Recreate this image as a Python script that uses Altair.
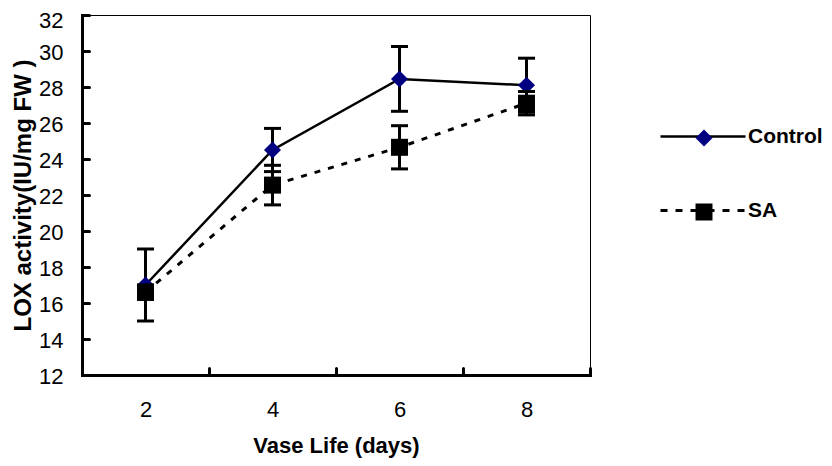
import altair as alt
import pandas as pd

# ---- data ----
days = [2, 4, 6, 8]
control_mean = [17.0, 24.5, 28.45, 28.1]
control_err = [2.0, 1.2, 1.8, 1.5]
sa_mean = [16.6, 22.55, 24.65, 27.1]
sa_err = [0.4, 1.1, 1.2, 0.65]
series_names = ["Control", "SA"]
y_tick_values = [12, 14, 16, 18, 20, 22, 24, 26, 28, 30, 32]
x_label_values = [2, 4, 6, 8]
x_tick_values = [3, 5, 7, 9]
x_domain = [1, 9]
y_domain = [12, 32]

rows = []
for s, means, errs in [("Control", control_mean, control_err), ("SA", sa_mean, sa_err)]:
    for d, m, e in zip(days, means, errs):
        rows.append({"day": d, "series": s, "mean": m, "lo": m - e, "hi": m + e})
df = pd.DataFrame(rows)
legend_df = pd.DataFrame({"series": series_names})

W, H = 508, 360
FONT = "Liberation Sans"

xs = alt.Scale(domain=x_domain, nice=False, zero=False)
ys = alt.Scale(domain=y_domain, nice=False, zero=False)

x_axis = alt.Axis(orient="bottom", values=x_label_values, format="d", ticks=False, tickSize=0,
                  grid=False, domainColor="black", domainWidth=3, domainCap="square",
                  labelFont=FONT, labelFontSize=22, labelColor="black", labelPadding=24,
                  labelFlush=False, title="Vase Life (days)", titleFont=FONT, titleFontSize=22,
                  titleFontWeight="bold", titleColor="black", titlePadding=15)
y_axis = alt.Axis(orient="left", values=y_tick_values, format="d", ticks=False, tickSize=0,
                  grid=False, domainColor="black", domainWidth=3, domainCap="square",
                  labelFont=FONT, labelFontSize=22, labelColor="black", labelPadding=19,
                  labelFlush=False,
                  labelOffset={"condition": {"test": "datum.value == 32", "value": 5}, "value": 1},
                  title="LOX activity(IU/mg FW )", titleFont=FONT,
                  titleFontSize=24, titleFontWeight="bold", titleColor="black", titlePadding=3)

x_tick_axis = alt.Axis(orient="top", offset=-H, values=x_tick_values, labels=False, domain=False,
                       grid=False, ticks=True, tickSize=7, tickWidth=3, tickColor="black",
                       tickCap="round", title=None)
y_tick_axis = alt.Axis(orient="right", offset=-W, values=y_tick_values, labels=False, domain=False,
                       grid=False, ticks=True, tickSize=7, tickWidth=3, tickColor="black",
                       tickCap="round", title=None)


def ex():
    return alt.X("day:Q", scale=xs, axis=x_axis)


def ey(field):
    return alt.Y(f"{field}:Q", scale=ys, axis=y_axis)


def series_layers(name, line_kw, point_kw):
    src = alt.Chart(df).transform_filter(alt.datum.series == name)
    line = src.mark_line(**line_kw).encode(x=ex(), y=ey("mean"))
    bars = src.mark_rule(color="black", strokeWidth=3).encode(x=ex(), y=ey("lo"), y2="hi:Q")
    cap_lo = src.mark_tick(orient="horizontal", size=17, thickness=3, color="black",
                           opacity=1).encode(x=ex(), y=ey("lo"))
    cap_hi = src.mark_tick(orient="horizontal", size=17, thickness=3, color="black",
                           opacity=1).encode(x=ex(), y=ey("hi"))
    pts = src.mark_point(**point_kw).encode(x=ex(), y=ey("mean"))
    return [line, bars, cap_lo, cap_hi, pts]


ctrl_layers = series_layers("Control", dict(color="black", strokeWidth=2.5),
                            dict(shape="diamond", filled=True, size=289, color="#000080",
                                 opacity=1, strokeWidth=0))
sa_layers = series_layers("SA", dict(color="black", strokeWidth=3, strokeDash=[6, 8]),
                          dict(shape="square", filled=True, size=289, color="black",
                               opacity=1, strokeWidth=0))

# legend: line part (with labels) + marker part overlaid
line_paths = [
    "M-4.2,-0.13H4.3V0.13H-4.2Z",
    "M-4.2,-0.15H-3.5V0.15H-4.2Z M-2.7,-0.15H-2V0.15H-2.7Z M-1.2,-0.15H-0.5V0.15H-1.2Z "
    "M0.5,-0.15H1.2V0.15H0.5Z M2,-0.15H2.7V0.15H2Z M3.5,-0.15H4.2V0.15H3.5Z",
]
leg_lines = alt.Chart(legend_df).transform_filter("false").mark_point(
    filled=True, color="black", opacity=1).encode(
    shape=alt.Shape("series:N", scale=alt.Scale(domain=series_names, range=line_paths),
                    legend=alt.Legend(orient="none", legendX=610, legendY=111, title=None,
                                      symbolSize=400, symbolStrokeWidth=0, symbolOpacity=1,
                                      labelFont=FONT, labelFontSize=21, labelFontWeight="bold",
                                      labelColor="black", labelOffset=35, rowPadding=52)))
marker_legend = alt.Legend(orient="none", legendX=611.5, legendY=112.5, title=None,
                           symbolSize=289, symbolStrokeWidth=0, symbolOpacity=1,
                           labelFont=FONT, labelFontSize=21, labelFontWeight="bold",
                           labelExpr="''", labelOffset=4, rowPadding=52)
leg_marks = alt.Chart(legend_df).transform_filter("false").mark_point(
    filled=True, opacity=1).encode(
    shape=alt.Shape("series:N", scale=alt.Scale(domain=series_names, range=["diamond", "square"]),
                    legend=marker_legend),
    fill=alt.Fill("series:N", scale=alt.Scale(domain=series_names, range=["#000080", "black"]),
                  legend=marker_legend))

inner = alt.layer(*ctrl_layers, *sa_layers, leg_lines, leg_marks).resolve_scale(
    shape="independent", fill="independent")

tick_layer = alt.Chart(df).mark_point(opacity=0).encode(
    x=alt.X("day:Q", scale=xs, axis=x_tick_axis),
    y=alt.Y("mean:Q", scale=ys, axis=y_tick_axis))

chart = alt.layer(inner, tick_layer).resolve_scale(
    x="independent", y="independent").properties(
    width=W, height=H,
    autosize=alt.AutoSizeParams(type="none"),
    padding={"left": 74, "top": 7, "right": 234, "bottom": 83},
).configure_view(stroke="black", strokeWidth=1)

chart.save("out.html", embed_options={"renderer": "svg", "actions": False})
